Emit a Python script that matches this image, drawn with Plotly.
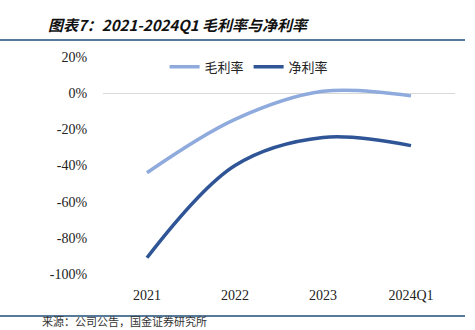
import plotly.graph_objects as go

categories = ["2021", "2022", "2023", "2024Q1"]
gross_margin = [-44, -14.5, 1, -1.5]
net_margin = [-91, -40, -24.5, -29]
y_ticks = [20, 0, -20, -40, -60, -80, -100]
y_tick_labels = ["20%", "0%", "-20%", "-40%", "-60%", "-80%", "-100%"]

fig = go.Figure()
fig.add_trace(go.Scatter(x=categories, y=gross_margin, name="毛利率", mode="lines",
                         line=dict(color="#8FAADC", width=3.5, shape="spline", smoothing=1.0)))
fig.add_trace(go.Scatter(x=categories, y=net_margin, name="净利率", mode="lines",
                         line=dict(color="#2F5597", width=3.5, shape="spline", smoothing=1.0)))

serif = "Liberation Serif, Times New Roman, serif"

fig.update_layout(
    width=475, height=330,
    margin=dict(l=103, r=20, t=57, b=56),
    paper_bgcolor="white", plot_bgcolor="white",
    showlegend=True,
    legend=dict(orientation="h", x=0.175, xanchor="left", y=0.955, yanchor="middle",
                font=dict(family="Noto Sans CJK SC", size=13, color="#222"),
                bgcolor="rgba(0,0,0,0)", itemwidth=30, tracegroupgap=0),
    xaxis=dict(type="category", range=[-0.5, 3.5], showgrid=False, showline=False, zeroline=False,
               ticks="outside", ticklen=8, tickcolor="rgba(0,0,0,0)",
               tickfont=dict(family=serif, size=14, color="#222")),
    yaxis=dict(range=[-100, 20], tickvals=y_ticks, ticktext=y_tick_labels,
               showgrid=False, showline=False, zeroline=True, zerolinecolor="#D9D9D9",
               zerolinewidth=1,
               ticks="outside", ticklen=12, tickcolor="rgba(0,0,0,0)",
               tickfont=dict(family=serif, size=14, color="#222")),
    shapes=[
        dict(type="line", xref="paper", yref="paper", x0=-103/352, x1=(465-103)/352,
             y0=(274-40)/217, y1=(274-40)/217, line=dict(color="#1F4E79", width=1.5)),
        dict(type="line", xref="paper", yref="paper", x0=-103/352, x1=(465-103)/352,
             y0=(274-316)/217, y1=(274-316)/217, line=dict(color="#1F4E79", width=1.5)),
    ],
    annotations=[
        dict(text="<b><i>图表7：2021-2024Q1 毛利率与净利率</i></b>", xref="paper", yref="paper",
             x=(46-103)/352, y=(274-25)/217, xanchor="left", yanchor="middle", showarrow=False,
             font=dict(family="Noto Sans CJK SC", size=15, color="#111")),
        dict(text="来源：公司公告，国金证券研究所", xref="paper", yref="paper",
             x=(40-103)/352, y=(274-321)/217, xanchor="left", yanchor="middle", showarrow=False,
             font=dict(family="Noto Sans CJK SC", size=11, color="#333")),
    ],
)

fig.write_html("out.html")
